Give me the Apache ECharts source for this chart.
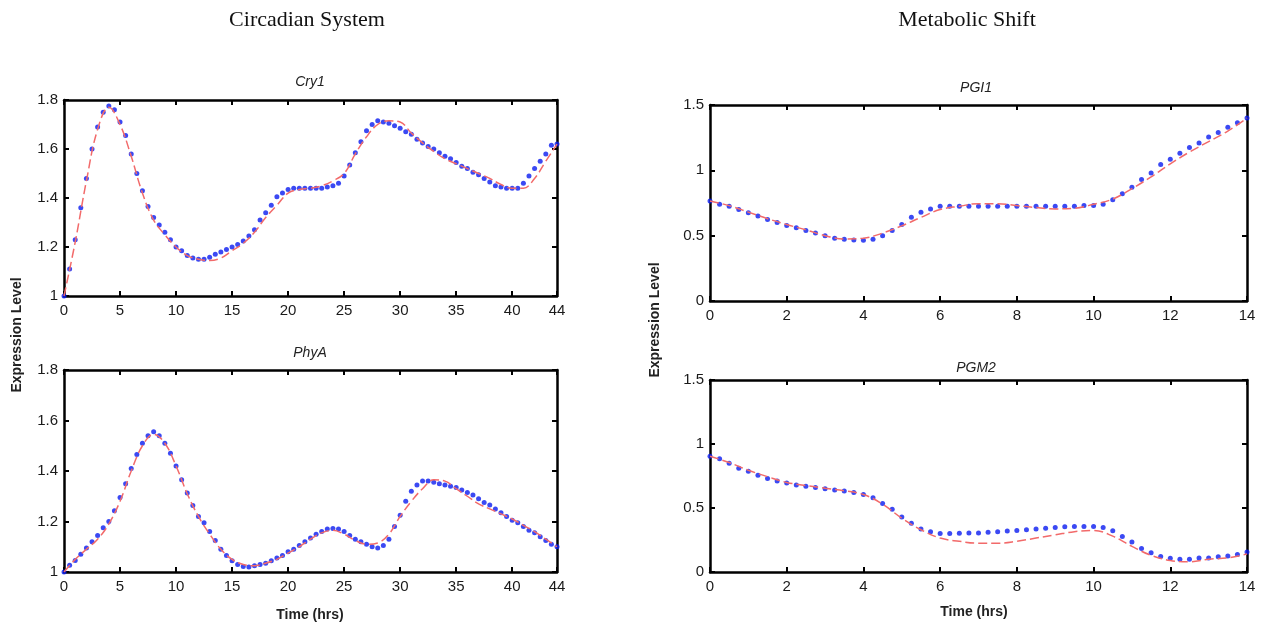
<!DOCTYPE html>
<html>
<head>
<meta charset="utf-8">
<title>Circadian System / Metabolic Shift</title>
<script src="https://cdn.jsdelivr.net/npm/echarts@6/dist/echarts.min.js"></script>
<style>
  html, body { margin: 0; padding: 0; background: #fff; }
  #chart { width: 1262px; height: 627px; }
</style>
</head>
<body>
<div id="chart"></div>
<script>
// time axes (hrs)
const cryDotTime = [0,0.5,1,1.5,2,2.5,3,3.5,4,4.5,5,5.5,6,6.5,7,7.5,8,8.5,9,9.5,10,10.5,11,11.5,12,12.5,13,13.5,14,14.5,15,15.5,16,16.5,17,17.5,18,18.5,19,19.5,20,20.5,21,21.5,22,22.5,23,23.5,24,24.5,25,25.5,26,26.5,27,27.5,28,28.5,29,29.5,30,30.5,31,31.5,32,32.5,33,33.5,34,34.5,35,35.5,36,36.5,37,37.5,38,38.5,39,39.5,40,40.5,41,41.5,42,42.5,43,43.5,44];
const fitTimeLong = [0,1,2,3,4,5,6,7,8,9,10,11,12,13,14,15,16,17,18,19,20,21,22,23,24,25,26,27,28,29,30,31,32,33,34,35,36,37,38,39,40,41,42,43,44];
const metDotTime = [0,0.25,0.5,0.75,1,1.25,1.5,1.75,2,2.25,2.5,2.75,3,3.25,3.5,3.75,4,4.25,4.5,4.75,5,5.25,5.5,5.75,6,6.25,6.5,6.75,7,7.25,7.5,7.75,8,8.25,8.5,8.75,9,9.25,9.5,9.75,10,10.25,10.5,10.75,11,11.25,11.5,11.75,12,12.25,12.5,12.75,13,13.25,13.5,13.75,14];
const fitTimeShort = [0,0.5,1,1.5,2,2.5,3,3.5,4,4.5,5,5.5,6,6.5,7,7.5,8,8.5,9,9.5,10,10.5,11,11.5,12,12.5,13,13.5,14];

// Cry1
const cry1Data = [1.00,1.11,1.23,1.36,1.48,1.60,1.69,1.75,1.776,1.76,1.71,1.655,1.58,1.50,1.43,1.365,1.32,1.29,1.26,1.23,1.20,1.185,1.165,1.155,1.15,1.15,1.158,1.17,1.18,1.19,1.20,1.21,1.225,1.245,1.27,1.31,1.34,1.37,1.405,1.42,1.435,1.44,1.44,1.44,1.44,1.44,1.44,1.445,1.45,1.46,1.49,1.535,1.585,1.63,1.675,1.70,1.715,1.71,1.705,1.695,1.685,1.67,1.66,1.64,1.625,1.61,1.60,1.585,1.57,1.56,1.545,1.53,1.52,1.505,1.495,1.48,1.465,1.45,1.445,1.44,1.44,1.44,1.46,1.49,1.52,1.55,1.58,1.615,1.62];
const cry1Fit = [1.00,1.22,1.47,1.68,1.77,1.70,1.57,1.42,1.31,1.25,1.20,1.165,1.15,1.145,1.155,1.185,1.215,1.26,1.32,1.37,1.42,1.435,1.44,1.45,1.47,1.50,1.58,1.65,1.70,1.715,1.71,1.665,1.625,1.59,1.56,1.54,1.52,1.50,1.48,1.455,1.44,1.44,1.48,1.55,1.62];

// PhyA
const phyaData = [1.00,1.027,1.046,1.07,1.095,1.12,1.145,1.175,1.20,1.243,1.295,1.35,1.41,1.465,1.51,1.54,1.555,1.54,1.51,1.47,1.42,1.365,1.313,1.263,1.22,1.195,1.16,1.125,1.09,1.065,1.045,1.03,1.022,1.02,1.025,1.03,1.035,1.045,1.055,1.065,1.08,1.09,1.105,1.12,1.135,1.15,1.16,1.17,1.172,1.17,1.16,1.145,1.13,1.12,1.11,1.10,1.095,1.105,1.13,1.18,1.225,1.28,1.32,1.345,1.36,1.36,1.355,1.35,1.345,1.34,1.335,1.325,1.315,1.305,1.29,1.275,1.265,1.25,1.235,1.22,1.205,1.195,1.18,1.165,1.155,1.14,1.125,1.11,1.10];
const phyaFit = [1.00,1.05,1.09,1.13,1.19,1.28,1.40,1.50,1.545,1.51,1.42,1.31,1.22,1.15,1.09,1.05,1.03,1.025,1.035,1.05,1.075,1.10,1.13,1.155,1.165,1.15,1.125,1.11,1.115,1.15,1.22,1.28,1.33,1.365,1.36,1.33,1.30,1.27,1.25,1.23,1.21,1.185,1.16,1.13,1.10];

// PGI1
const pgi1Data = [0.765,0.74,0.725,0.70,0.675,0.65,0.623,0.60,0.577,0.56,0.54,0.52,0.50,0.48,0.472,0.467,0.465,0.472,0.50,0.54,0.585,0.64,0.68,0.705,0.725,0.725,0.725,0.725,0.725,0.725,0.725,0.725,0.725,0.725,0.725,0.725,0.725,0.725,0.725,0.73,0.73,0.74,0.775,0.82,0.87,0.93,0.98,1.045,1.085,1.13,1.175,1.21,1.255,1.29,1.33,1.365,1.40];
const pgi1Fit = [0.765,0.73,0.68,0.63,0.585,0.545,0.50,0.475,0.48,0.52,0.575,0.64,0.70,0.725,0.745,0.745,0.73,0.715,0.705,0.71,0.74,0.78,0.86,0.95,1.05,1.14,1.22,1.30,1.40];

// PGM2
const pgm2Data = [0.905,0.885,0.85,0.81,0.787,0.755,0.73,0.71,0.695,0.68,0.67,0.66,0.65,0.64,0.632,0.622,0.605,0.58,0.535,0.49,0.43,0.38,0.335,0.315,0.30,0.30,0.302,0.305,0.305,0.31,0.315,0.32,0.325,0.33,0.335,0.342,0.348,0.353,0.355,0.355,0.355,0.348,0.322,0.277,0.234,0.183,0.15,0.122,0.107,0.10,0.10,0.11,0.11,0.12,0.125,0.137,0.157];
const pgm2Fit = [0.905,0.855,0.795,0.745,0.70,0.675,0.655,0.635,0.605,0.53,0.42,0.33,0.265,0.24,0.225,0.225,0.24,0.265,0.29,0.315,0.325,0.28,0.20,0.13,0.09,0.08,0.10,0.11,0.14];

const longTicks = 5, shortTicks = 2;

const chart = echarts.init(document.getElementById('chart'));

const grids = [
  { left: 64, top: 100, width: 493, height: 196 },
  { left: 64, top: 370, width: 493, height: 202 },
  { left: 710, top: 105, width: 537, height: 196 },
  { left: 710, top: 380, width: 537, height: 192 },
];

const panels = [
  { x: [0, 44, longTicks], y: [1, 1.8, 0.2], dotT: cryDotTime, dots: cry1Data, fitT: fitTimeLong, fit: cry1Fit },
  { x: [0, 44, longTicks], y: [1, 1.8, 0.2], dotT: cryDotTime, dots: phyaData, fitT: fitTimeLong, fit: phyaFit },
  { x: [0, 14, shortTicks], y: [0, 1.5, 0.5], dotT: metDotTime, dots: pgi1Data, fitT: fitTimeShort, fit: pgi1Fit },
  { x: [0, 14, shortTicks], y: [0, 1.5, 0.5], dotT: metDotTime, dots: pgm2Data, fitT: fitTimeShort, fit: pgm2Fit },
];

const LABEL = { color: '#1a1a1a', fontFamily: 'Liberation Sans, Arial', fontSize: 15 };
const AXLINE = { show: true, onZero: false, lineStyle: { color: '#000', width: 2.5 } };

const xAxis = [], yAxis = [], series = [];
panels.forEach((p, i) => {
  ['bottom', 'top'].forEach(pos => {
    xAxis.push({
      type: 'value', gridIndex: i, position: pos,
      min: p.x[0], max: p.x[1], interval: p.x[2],
      axisLine: AXLINE,
      axisTick: { show: true, inside: true, length: 5, lineStyle: { color: '#000', width: 2 } },
      axisLabel: { show: pos === 'bottom', margin: 7, showMaxLabel: true, ...LABEL },
      splitLine: { show: false },
    });
  });
  ['left', 'right'].forEach(pos => {
    yAxis.push({
      type: 'value', gridIndex: i, position: pos,
      min: p.y[0], max: p.y[1], interval: p.y[2],
      axisLine: AXLINE,
      axisTick: { show: true, inside: true, length: 5, lineStyle: { color: '#000', width: 2 } },
      axisLabel: { show: pos === 'left', margin: 6, ...LABEL },
      splitLine: { show: false },
    });
  });
  series.push({
    type: 'line', xAxisIndex: i * 2, yAxisIndex: i * 2,
    data: p.fitT.map((t, k) => [t, p.fit[k]]),
    smooth: 0.4, showSymbol: false, silent: true,
    lineStyle: { color: '#f26a6a', width: 1.5, type: [9, 4] },
  });
  series.push({
    type: 'scatter', xAxisIndex: i * 2, yAxisIndex: i * 2,
    data: p.dotT.map((t, k) => [t, p.dots[k]]),
    symbolSize: 5, silent: true,
    itemStyle: { color: '#0a1cf0' },
  });
});

function txt(x, y, text, style) {
  return { type: 'text', x, y, style: Object.assign({ text, fill: '#222', align: 'center', verticalAlign: 'middle' }, style) };
}
const HEAD = { font: '22px "Liberation Serif", serif', fill: '#111' };
const SUB = { font: 'italic 14px "Liberation Sans", Arial', fill: '#222' };
const AX = { font: 'bold 14px "Liberation Sans", Arial', fill: '#222' };

chart.setOption({
  animation: false,
  grid: grids.map(g => Object.assign({ containLabel: false }, g)),
  xAxis, yAxis, series,
  graphic: [
    txt(307, 20, 'Circadian System', HEAD),
    txt(967, 20, 'Metabolic Shift', HEAD),
    txt(310, 82, 'Cry1', SUB),
    txt(310, 353, 'PhyA', SUB),
    txt(976, 88, 'PGI1', SUB),
    txt(976, 368, 'PGM2', SUB),
    txt(310, 615, 'Time (hrs)', AX),
    txt(974, 612, 'Time (hrs)', AX),
    Object.assign(txt(17, 335, 'Expression Level', AX), { rotation: Math.PI / 2 }),
    Object.assign(txt(655, 320, 'Expression Level', AX), { rotation: Math.PI / 2 }),
  ],
});
</script>
</body>
</html>
